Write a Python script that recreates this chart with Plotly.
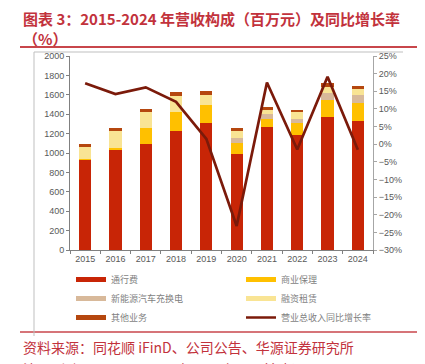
import plotly.graph_objects as go

years = ["2015", "2016", "2017", "2018", "2019", "2020", "2021", "2022", "2023", "2024"]
toll = [935, 1038, 1090, 1230, 1313, 990, 1268, 1182, 1368, 1326]
factoring = [8, 17, 168, 196, 182, 113, 83, 127, 178, 186]
ev_charging = [0, 0, 0, 0, 0, 52, 48, 45, 69, 83]
leasing = [116, 175, 165, 162, 100, 68, 48, 65, 65, 68]
other = [34, 24, 31, 37, 48, 31, 31, 28, 38, 31]
growth = [17.3, 14.2, 16.1, 12.0, 1.5, -23.2, 17.5, -1.5, 19.1, -1.6]

names = ["通行费", "商业保理", "新能源汽车充换电", "融资租赁", "其他业务"]
colors = ["#C82506", "#FFC000", "#D8B99A", "#F9E494", "#B5470F"]
series = [toll, factoring, ev_charging, leasing, other]
line_name = "营业总收入同比增长率"
line_color = "#7B1A0A"

# page body has an 8px default margin: work in reference pixels and shift
OFF = 8
W, H = 425 - OFF, 364 - OFF
L, R, T, B = 70 - OFF, 373 - OFF, 56 - OFF, 250 - OFF

def px(x):
    return ((x - OFF) - L) / (R - L)

def py(y):
    return (B - (y - OFF)) / (B - T)

fig = go.Figure()
for n, c, s in zip(names, colors, series):
    fig.add_trace(go.Bar(x=years, y=s, name=n, marker=dict(color=c, line=dict(width=0)),
                         width=0.4, showlegend=False))
fig.add_trace(go.Scatter(x=years, y=growth, name=line_name, mode="lines",
                         line=dict(color=line_color, width=2.7), yaxis="y2", showlegend=False))

# legend-only entries (thick line swatches), two columns as two legends
legend_items = [
    (names[0], colors[0], 5, "legend"), (names[2], colors[2], 5, "legend"),
    (names[4], colors[4], 5, "legend"),
    (names[1], colors[1], 5, "legend2"), (names[3], colors[3], 5, "legend2"),
    (line_name, line_color, 2.5, "legend2"),
]
for n, c, w, lg in legend_items:
    fig.add_trace(go.Scatter(x=[None], y=[None], name=n, mode="lines",
                             line=dict(color=c, width=w), showlegend=True, legend=lg))

tick_font = dict(family="Liberation Sans, Arial", size=9, color="#595959")
leg_common = dict(orientation="v", xref="container", yref="container", xanchor="left",
                  yanchor="top", traceorder="normal", tracegroupgap=0,
                  font=dict(family="Noto Sans CJK SC", size=9, color="#7F7F7F"),
                  bgcolor="rgba(0,0,0,0)", itemwidth=30)
leg_top = 1 - (265 - OFF) / H
fig.update_layout(
    width=W, height=H,
    margin=dict(l=L, r=W - R, t=T, b=H - B, autoexpand=False),
    paper_bgcolor="white", plot_bgcolor="white",
    barmode="stack", bargap=0.6,
    xaxis=dict(type="category", showline=True, linecolor="#808080", linewidth=1,
               ticks="outside", tickson="boundaries", ticklen=3, tickcolor="#808080",
               tickfont=tick_font, showgrid=False, fixedrange=True),
    yaxis=dict(range=[0, 2000], dtick=200, showline=True, linecolor="#808080", linewidth=1,
               ticks="outside", ticklen=3, tickcolor="#808080", tickfont=tick_font,
               showgrid=False, zeroline=False),
    yaxis2=dict(range=[-30, 25], dtick=5, overlaying="y", side="right", ticksuffix="%",
                showline=True, linecolor="#A6A6A6", linewidth=1, ticks="outside", ticklen=3,
                tickcolor="#A6A6A6", tickfont=tick_font, showgrid=False, zeroline=False),
    legend=dict(x=(71 - OFF) / W, y=leg_top, **leg_common),
    legend2=dict(x=(241 - OFF) / W, y=leg_top, **leg_common),
    font=dict(family="Noto Sans CJK SC"),
)

red = "#C2323C"
fig.add_annotation(text="<b>图表 3：2015-2024 年营收构成（百万元）及同比增长率</b>",
                   x=px(21), y=py(18), xref="paper", yref="paper", xanchor="left", yanchor="middle",
                   showarrow=False, font=dict(family="Noto Sans CJK SC", size=15, color=red))
fig.add_annotation(text="<b>（%）</b>",
                   x=px(21), y=py(38), xref="paper", yref="paper", xanchor="left", yanchor="middle",
                   showarrow=False, font=dict(family="Noto Sans CJK SC", size=15, color=red))
fig.add_annotation(text="资料来源：同花顺 iFinD、公司公告、华源证券研究所",
                   x=px(21), y=py(347), xref="paper", yref="paper", xanchor="left", yanchor="middle",
                   showarrow=False, font=dict(family="Noto Sans CJK SC", size=14, color=red))
fig.add_annotation(text="注：剔除PPP项目，2024年已退出，目前建设公司",
                   x=px(21), y=py(369), xref="paper", yref="paper", xanchor="left", yanchor="middle",
                   showarrow=False, font=dict(family="Noto Sans CJK SC", size=14, color=red))

# decorative rules and frame
fig.add_shape(type="line", xref="paper", yref="paper", x0=px(20), x1=px(421), y0=py(47), y1=py(47),
              line=dict(color="#C8464B", width=2))
fig.add_shape(type="line", xref="paper", yref="paper", x0=px(20), x1=px(421), y0=py(332), y1=py(332),
              line=dict(color="#C8464B", width=1.5))
fig.add_shape(type="line", xref="paper", yref="paper", x0=px(34), x1=px(403), y0=py(52), y1=py(52),
              line=dict(color="#BFBFBF", width=1))
fig.add_shape(type="line", xref="paper", yref="paper", x0=px(34), x1=px(34), y0=py(52), y1=py(336),
              line=dict(color="#BFBFBF", width=1))

fig.write_html("out.html")
